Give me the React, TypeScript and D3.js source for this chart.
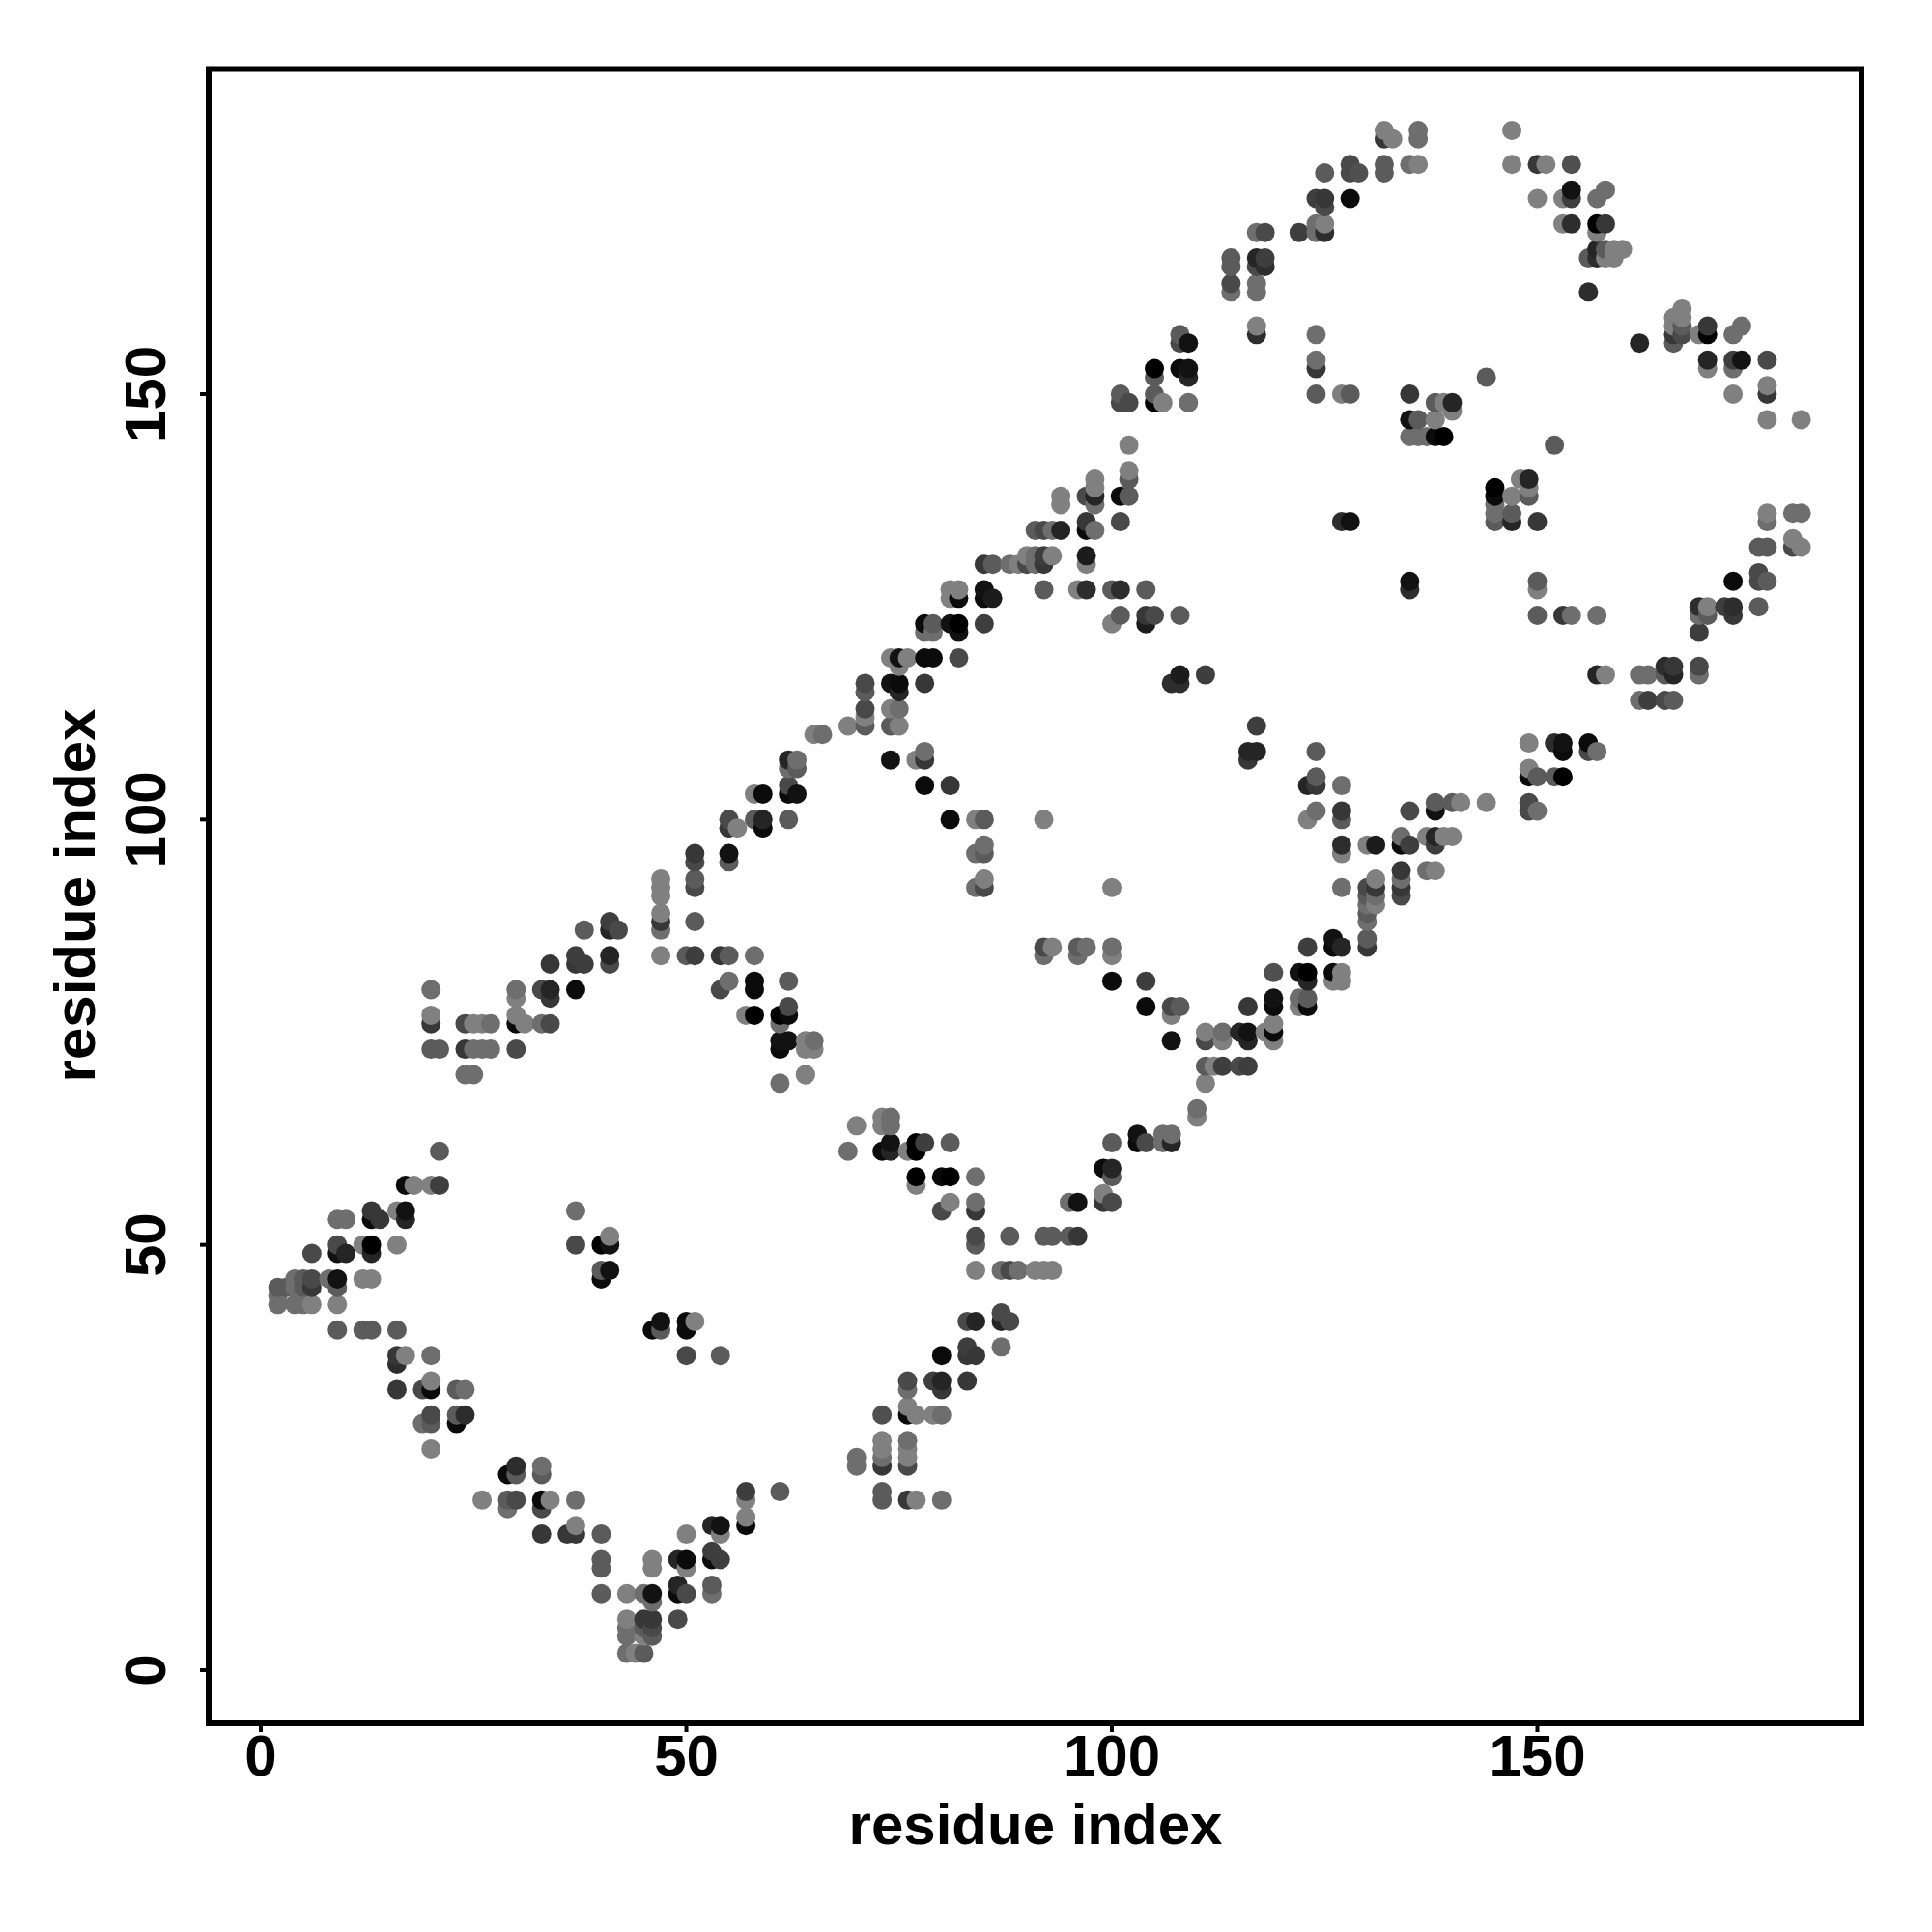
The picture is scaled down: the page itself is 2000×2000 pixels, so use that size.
import React from "react";
import * as d3 from "d3";

// Each contact: [residue i, residue j, grey level]
const lowerLeftArm = [[21,61,85],[17,57,10],[18,57,119],[20,57,119],[21,57,58],[13,54,51],[16,54,119],[17,54,17],[9,53,102],[10,53,102],[13,53,10],[14,53,51],[17,53,34],[9,50,68],[12,50,119],[13,50,0],[16,50,119],[6,49,68],[9,49,17],[10,49,34],[13,49,34],[4,46,102],[5,46,85],[6,46,68],[8,46,102],[9,46,17],[12,46,119],[13,46,119],[2,45,85],[3,45,85],[4,45,102],[5,45,85],[6,45,51],[9,45,85],[2,44,102],[2,43,102],[4,43,102],[5,43,102],[6,43,119],[9,43,119],[9,40,85],[12,40,85],[13,40,85],[16,40,85],[16,37,51],[17,37,119],[20,37,102],[16,36,42],[20,34,119],[16,33,51],[19,33,68],[20,33,10],[23,33,85],[24,33,102],[20,30,68],[23,30,85],[24,30,42],[19,29,102],[20,29,85],[23,29,10],[20,26,119]];
const bottomCluster = [[30,24,42],[33,24,102],[29,23,10],[30,23,85],[33,23,85],[26,20,119],[29,20,85],[30,20,68],[33,20,10],[34,20,119],[37,20,102],[29,19,102],[33,19,68],[37,17,119],[33,16,51],[36,16,51],[37,16,51],[40,16,85],[40,13,85],[40,12,85],[40,9,85],[43,9,119],[45,9,102],[46,9,17],[46,8,102],[43,6,119],[45,6,51],[46,6,51],[43,5,102],[45,5,85],[46,5,68],[43,4,102],[45,4,119],[46,4,85],[43,2,102],[44,2,119],[45,2,85],[46,13,119],[46,12,119],[49,13,34],[50,13,10],[50,12,119],[50,16,119],[49,10,34],[49,9,10],[50,9,68],[53,10,85],[53,9,102],[49,6,68],[53,14,58],[53,13,10],[54,13,58],[53,17,34],[54,17,17],[54,16,119],[57,21,58],[57,20,119],[57,18,119],[57,17,10],[61,21,85]];
const innerLeft = [[37,54,102],[37,50,68],[40,50,0],[41,51,119],[41,50,17],[40,47,85],[41,47,17],[40,46,10],[46,40,10],[47,41,17],[47,40,85],[50,41,10],[50,40,10],[51,41,119],[50,37,68],[54,37,85]];
const midLower = [[61,69,102],[64,70,119],[70,64,119],[73,65,119],[73,64,119],[74,65,102],[74,64,102],[69,61,102],[73,61,10],[74,62,17],[74,61,34],[76,61,119],[77,62,0],[77,61,0],[78,62,58],[81,62,85],[77,58,0],[80,58,10],[81,58,0],[84,58,102],[77,57,119],[81,55,119],[84,55,102],[80,54,68],[84,54,51],[84,51,68],[88,51,85],[92,51,85],[93,51,85],[95,51,85],[96,51,51],[84,50,85],[84,47,119],[87,47,102],[88,47,68],[89,47,102],[91,47,119],[92,47,119],[93,47,119],[100,62,85],[99,59,10],[100,59,34],[100,58,85],[99,56,119],[99,55,51],[100,55,68],[95,55,102],[96,55,17]];
const lowerStem = [[83,41,68],[84,41,34],[87,42,68],[87,41,34],[88,41,68],[87,38,102],[80,37,10],[83,38,58],[83,37,51],[84,37,51],[76,34,68],[79,34,58],[80,34,34],[83,34,51],[76,33,102],[80,33,51],[76,31,119],[73,30,74],[76,30,10],[77,30,119],[79,30,119],[80,30,102],[73,27,119],[73,26,119],[73,25,102],[73,24,51],[76,27,102],[76,26,119],[76,25,119],[76,24,68],[70,25,102],[70,24,102],[73,21,85],[73,20,85],[76,20,51],[77,20,119],[80,20,102]];
const upperLeftBand = [[20,80,102],[20,77,119],[20,76,51],[24,76,68],[25,76,119],[26,76,119],[27,76,102],[30,77,119],[30,76,10],[31,76,119],[33,76,102],[34,76,68],[30,80,102],[30,79,119],[33,80,68],[34,80,34],[34,79,51],[37,80,10],[20,73,85],[21,73,85],[24,73,51],[25,73,102],[26,73,102],[27,73,102],[30,73,68],[24,70,102],[25,70,102],[34,83,51],[37,83,51],[38,83,58],[41,83,68],[37,84,58],[41,84,34],[47,84,119],[50,84,85],[51,84,58],[54,84,51],[55,84,85],[58,84,102],[38,87,85],[41,87,34],[42,87,68],[47,87,102],[41,88,58],[47,88,51],[51,88,85],[47,89,119],[47,91,119],[47,92,119],[51,92,68],[47,93,119],[51,93,85],[51,95,68],[55,95,85],[51,96,51],[55,96,17],[55,99,51],[56,99,119],[59,99,10],[55,100,68],[58,100,85],[59,100,34],[62,100,85],[58,103,119],[59,103,10],[62,103,10],[63,103,17],[62,104,68],[62,106,102],[63,106,85],[62,107,34],[63,107,102],[65,110,119],[66,110,102],[69,111,119],[71,111,85],[71,112,119],[71,113,68],[71,115,85],[71,116,68],[74,107,17]];
const centreLeft = [[55,81,102],[58,81,10],[62,81,85],[54,80,68],[58,80,10],[62,78,68],[57,77,119],[58,77,0],[61,77,0],[62,77,10],[61,76,102],[61,74,17],[62,74,17],[64,74,119],[65,74,102],[61,73,10],[64,73,119],[65,73,119],[64,70,119]];
const centre = [[74,116,17],[75,116,10],[78,116,51],[75,115,34],[74,113,119],[75,113,102],[74,111,85],[75,111,119],[78,108,102],[77,107,119],[78,107,51],[78,104,10],[81,104,51],[81,100,10],[84,100,119],[85,100,85],[92,100,119],[85,97,102],[84,96,102],[85,96,85],[85,93,119],[84,92,102],[85,92,68],[100,92,119],[92,85,68],[93,85,119],[96,85,85],[97,85,102],[100,85,102],[92,84,102],[96,84,102],[100,84,119],[100,81,10],[104,81,58],[104,78,10],[107,78,68],[108,78,85],[107,77,119],[107,74,17],[111,74,68],[113,74,119],[111,75,119],[113,75,102],[115,75,34],[116,75,17],[116,74,34],[111,71,85],[112,71,119],[113,71,58],[115,71,68],[116,71,58],[111,69,119],[110,66,102],[110,65,119],[103,63,17],[103,62,10],[104,62,68],[106,63,102],[107,63,102],[106,62,102],[107,62,34]];
const centreRight = [[117,111,58],[116,108,34],[117,108,34],[124,108,85],[116,107,51],[124,105,85],[123,104,34],[124,104,51],[127,104,102],[124,101,102],[127,101,51],[123,100,119],[127,100,85],[127,97,42],[127,96,119],[127,92,102],[126,86,17],[123,85,58],[126,85,10],[127,85,34],[119,82,74],[122,82,17],[123,82,0],[126,82,10],[127,82,119],[123,81,34],[126,81,119],[127,81,119],[119,79,17],[122,79,102],[123,79,85],[116,78,51],[119,78,10],[122,78,119],[123,78,10],[119,76,119],[118,75,119],[119,75,10],[119,74,119]];
const rightStem = [[135,101,68],[138,102,85],[138,101,17],[140,102,85],[141,102,119],[144,102,119],[149,102,68],[149,101,68],[150,101,102],[149,109,119],[152,109,42],[153,109,17],[153,108,10],[156,109,10],[156,108,68],[157,108,102],[149,106,119],[149,105,10],[150,105,85],[152,105,85],[153,105,0],[134,98,102],[137,98,119],[138,98,34],[139,98,119],[140,98,119],[130,97,119],[131,97,26],[134,97,10],[135,97,58],[138,97,58],[134,94,51],[137,94,102],[138,94,119],[131,93,119],[134,93,102],[130,92,68],[131,92,51],[134,92,51],[130,91,85],[131,91,102],[134,91,68],[130,90,102],[131,90,119],[130,89,85],[130,88,102],[130,86,85],[130,85,51]];
const topArc = [[132,181,119],[133,180,119],[132,180,51],[136,181,102],[136,180,102],[147,181,119],[132,177,85],[135,177,102],[136,177,119],[147,177,119],[150,177,51],[151,177,119],[154,177,74],[125,176,85],[128,177,68],[128,176,68],[129,176,74],[132,176,85],[124,173,58],[125,173,51],[128,173,10],[150,173,119],[153,173,119],[154,174,17],[154,173,58],[157,173,102],[158,174,102],[125,172,68],[124,170,102],[125,170,119],[153,170,119],[154,170,42],[157,170,0],[158,170,51],[157,169,119],[157,167,34],[158,167,85],[159,167,119],[160,167,119],[156,166,85],[157,166,42],[158,166,119],[159,166,119],[156,162,42]];
const upperBand = [[117,169,102],[118,169,68],[122,169,58],[124,169,102],[125,169,42],[114,166,85],[117,166,34],[118,166,58],[114,165,85],[117,165,68],[118,165,42],[114,163,68],[117,163,102],[114,162,102],[117,162,102],[117,158,119],[108,157,85],[117,157,42],[124,157,102],[108,156,68],[109,156,17],[124,154,102],[105,153,0],[108,153,10],[109,153,17],[124,153,51],[105,152,85],[109,152,34],[144,152,85],[101,150,85],[105,150,85],[124,150,85],[127,150,119],[128,150,85],[135,150,51],[101,149,68],[102,149,68],[105,149,0],[106,149,119],[109,149,102],[138,149,85],[139,149,119],[140,149,34],[140,148,119],[135,147,17],[136,147,85],[138,147,119],[135,145,102],[136,145,102],[137,145,102],[138,145,10],[139,145,0],[102,144,119],[102,141,119],[98,140,119],[102,140,85],[148,140,119],[149,140,34],[98,139,119],[145,139,0],[149,139,119],[94,138,119],[97,138,68],[98,138,34],[101,138,10],[102,138,85],[145,138,10],[147,138,119],[149,138,85],[94,137,119],[98,137,102],[145,137,102],[145,136,102],[147,136,85],[97,135,51],[101,135,68],[127,135,42],[128,135,17],[145,135,85],[147,135,34],[150,135,51],[94,134,34],[97,134,10],[98,134,102],[91,134,85],[92,134,68],[93,134,102],[97,131,26],[90,131,119],[91,131,102],[92,131,58],[93,131,119],[97,130,119],[85,130,51],[86,130,85],[88,130,102],[89,130,119],[90,130,68],[91,130,102],[92,130,51],[135,128,17],[150,128,85],[92,127,85],[96,127,119],[97,127,42],[100,127,85],[101,127,42],[104,127,85],[135,127,42],[150,127,119],[101,124,85],[104,124,51],[105,124,68],[108,124,85],[100,123,119],[104,123,26],[108,117,26],[111,117,58],[107,116,42],[108,116,42]];
const rightArc = [[167,160,119],[166,159,119],[167,159,119],[166,158,119],[167,158,85],[170,158,51],[174,158,102],[166,157,51],[167,157,68],[169,157,119],[170,157,0],[173,157,102],[162,156,34],[166,156,85],[170,154,34],[173,154,58],[174,154,17],[177,154,68],[170,153,119],[173,153,102],[177,151,119],[173,150,119],[177,150,51],[177,147,119],[181,147,119],[152,144,85],[177,136,119],[180,136,102],[181,136,102],[177,135,102],[180,133,119],[176,132,85],[177,132,85],[180,132,68],[181,132,119],[176,129,68],[173,128,10],[176,128,68],[177,128,85],[169,125,42],[170,125,119],[172,125,58],[173,125,42],[176,125,85],[169,124,102],[170,124,85],[173,124,51],[150,124,85],[153,124,51],[154,124,102],[157,124,102],[169,122,58],[165,118,42],[166,118,51],[169,118,68],[157,117,34],[158,117,119],[162,117,102],[163,117,102],[165,117,85],[166,117,34],[169,117,102],[162,114,102],[163,114,58],[165,114,68],[166,114,85]];
const diagonalBand = [[81,127,119],[82,127,119],[85,127,17],[81,126,119],[82,126,10],[85,126,10],[86,126,26],[78,123,10],[79,123,85],[81,123,17],[82,123,0],[85,123,58],[78,122,102],[79,122,102],[82,122,17],[74,119,119],[75,119,17],[76,119,119],[78,119,10],[79,119,10],[82,119,68],[75,118,119]];

const xTicks = [0, 50, 100, 150];
const yTicks = [0, 50, 100, 150];
const axisTitle = "residue index";

const FONT = "'Liberation Sans', Arial, sans-serif";

export default function App() {
  const left = 216, right = 1927, top = 71.5, bottom = 1784;
  const x = d3.scaleLinear().domain([0, 150]).range([270, 1591.5]);
  const y = d3.scaleLinear().domain([0, 150]).range([1729, 408]);
  const grey = d3.scaleLinear().domain([0, 119]).range([0, 128]);
  const contacts = [
    ...lowerLeftArm, ...bottomCluster, ...innerLeft, ...midLower, ...lowerStem,
    ...upperLeftBand, ...centreLeft, ...centre, ...centreRight, ...rightStem,
    ...topArc, ...upperBand, ...rightArc, ...diagonalBand,
  ].sort((a, b) => d3.ascending(a[0], b[0]) || d3.ascending(a[1], b[1]));

  return (
    <svg width={2000} height={2000} style={{ position: "absolute", left: 0, top: 0, display: "block", background: "#fff" }}>
      {contacts.map((c, i) => {
        const g = Math.round(grey(c[2]));
        return <circle key={i} cx={x(c[0])} cy={y(c[1])} r={10} fill={d3.rgb(g, g, g).formatHex()} />;
      })}
      <rect x={left} y={top} width={right - left} height={bottom - top} fill="none" stroke="#000" strokeWidth={6} />
      {xTicks.map((t) => (
        <g key={t}>
          <line x1={x(t)} x2={x(t)} y1={bottom} y2={bottom + 9} stroke="#000" strokeWidth={4} />
          <text x={x(t)} y={1838} textAnchor="middle" fontFamily={FONT} fontWeight="bold" fontSize={60}>{t}</text>
        </g>
      ))}
      {yTicks.map((t) => (
        <g key={t}>
          <line x1={left - 9} x2={left} y1={y(t)} y2={y(t)} stroke="#000" strokeWidth={4} />
          <text transform={`translate(171,${y(t)}) rotate(-90)`} textAnchor="middle" fontFamily={FONT} fontWeight="bold" fontSize={60}>{t}</text>
        </g>
      ))}
      <text x={1072} y={1909} textAnchor="middle" fontFamily={FONT} fontWeight="bold" fontSize={60}>{axisTitle}</text>
      <text transform="translate(98,927) rotate(-90)" textAnchor="middle" fontFamily={FONT} fontWeight="bold" fontSize={60}>{axisTitle}</text>
    </svg>
  );
}
